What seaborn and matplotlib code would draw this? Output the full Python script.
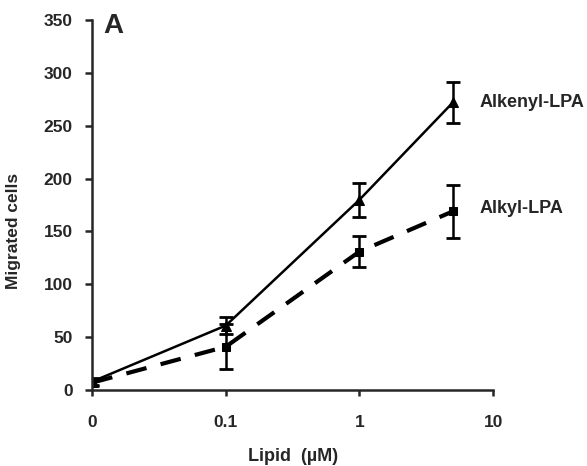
import numpy as np
import pandas as pd
import matplotlib
matplotlib.use("Agg")
import matplotlib.pyplot as plt
import seaborn as sns

# concentrations (uM); 0 is drawn at the 0.01 position of the log axis
conc = [0, 0.1, 1, 5]
alkenyl = [8, 61, 180, 272]
alkenyl_err = [3, 8, 16, 19]
alkyl = [7, 41, 131, 169]
alkyl_err = [3, 21, 15, 25]
tick_vals = [0, 0.1, 1, 10]
tick_labels = ["0", "0.1", "1", "10"]

sns.set_style("ticks")
plt.rcParams["font.family"] = ["Liberation Sans", "DejaVu Sans"]
plt.rcParams["font.weight"] = "bold"


def pos(v):
    return np.log10(np.where(np.array(v) == 0, 0.01, v))


df = pd.DataFrame({
    "x": np.concatenate([pos(conc), pos(conc)]),
    "y": alkenyl + alkyl,
    "lipid": ["Alkenyl-LPA"] * 4 + ["Alkyl-LPA"] * 4,
})

fig = plt.figure(figsize=(5.87, 4.66), dpi=100)
ax = fig.add_axes([0.157, 0.163, 0.683, 0.794])

sns.lineplot(data=df[df.lipid == "Alkenyl-LPA"], x="x", y="y", ax=ax,
             color="black", lw=1.8, marker="^", markersize=7, mec="black")
sns.lineplot(data=df[df.lipid == "Alkyl-LPA"], x="x", y="y", ax=ax,
             color="black", lw=3, marker="s", markersize=6, mec="black",
             dashes=(5, 3.5))

ax.errorbar(pos(conc), alkenyl, yerr=alkenyl_err, fmt="none", ecolor="black",
            elinewidth=1.8, capsize=5, capthick=2)
ax.errorbar(pos(conc), alkyl, yerr=alkyl_err, fmt="none", ecolor="black",
            elinewidth=1.8, capsize=5, capthick=2)

ax.annotate("Alkenyl-LPA", (pos([5])[0], alkenyl[-1]), xytext=(19, 0),
            textcoords="offset points", va="center", fontsize=13, fontweight="bold")
ax.annotate("Alkyl-LPA", (pos([5])[0], alkyl[-1]), xytext=(19, 2),
            textcoords="offset points", va="center", fontsize=13, fontweight="bold")

ax.set_xlim(-2, 1)
ax.set_ylim(0, 350)
ax.set_xticks(pos(tick_vals))
ax.set_xticklabels(tick_labels)
ax.set_yticks(range(0, 351, 50))
ax.tick_params(labelsize=12.5, width=1.8)
ax.tick_params(axis="y", length=5, pad=9)
ax.tick_params(axis="x", length=4, pad=14)
for lab in ax.get_xticklabels() + ax.get_yticklabels():
    lab.set_fontweight("bold")
for s in ["left", "bottom"]:
    ax.spines[s].set_linewidth(1.8)
sns.despine(ax=ax)

ax.set_xlabel("Lipid  (\u00b5M)", fontsize=13, fontweight="bold")
ax.set_ylabel("Migrated cells", fontsize=12.5, fontweight="bold")
ax.xaxis.set_label_coords(0.5, -0.157)
ax.yaxis.set_label_coords(-0.178, 0.43)
ax.text(0.027, 0.965, "A", transform=ax.transAxes, fontsize=20,
        fontweight="bold", va="baseline", ha="left")

fig.savefig("out.png", dpi=100)
